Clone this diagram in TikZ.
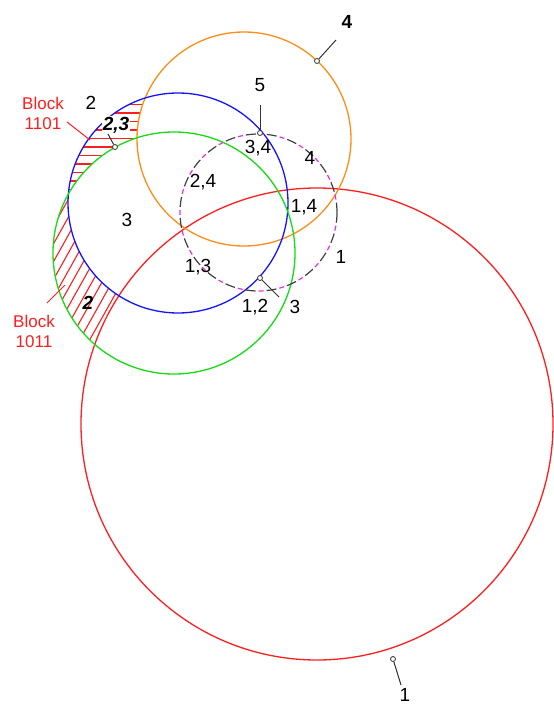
\documentclass[tikz,border=0pt]{standalone}
\usepackage{fontspec}
\setmainfont{Liberation Sans}
\definecolor{cred}{RGB}{255,30,30}
\definecolor{corange}{RGB}{255,140,20}
\definecolor{cblue}{RGB}{20,20,255}
\definecolor{cgreen}{RGB}{20,220,20}
\definecolor{cmag}{RGB}{240,40,240}
\begin{document}
\begin{tikzpicture}[x=1pt,y=-1pt,
  circ/.style={line width=1.3pt},
  hatch/.style={cred, line width=1.1pt},
  num/.style={font=\fontsize{19}{19}\selectfont, inner sep=1pt},
  bnum/.style={font=\fontsize{19}{19}\selectfont\bfseries, inner sep=1pt},
  binum/.style={font=\fontsize{19}{19}\selectfont\bfseries\itshape, inner sep=1pt},
  blk/.style={font=\fontsize{17}{20}\selectfont, text=cred, align=center, inner sep=0pt},
  pnt/.style={circle, draw=black!80, fill=white, line width=0.8pt, inner sep=0pt, minimum size=5pt},
  lead/.style={line width=1pt, black!80},
  rlead/.style={line width=1pt, cred}]
\useasboundingbox (0,0) rectangle (554,707);
% hatching block 1101
\begin{scope}
  \clip (178,203) circle[radius=110pt];
  \foreach \y in {104.5,113,...,190} \draw[hatch] (50,\y) -- (160,\y);
  \fill[white] (174,253) circle[radius=121pt];
  \fill[white] (244,139) circle[radius=107pt];
\end{scope}
% hatching block 1011
\begin{scope}
  \clip (174,253) circle[radius=121pt];
  \foreach \c in {170,180,...,330} \draw[hatch] ({\c-0.56*190},190) -- ({\c-0.56*380},380);
  \fill[white] (178,203) circle[radius=110pt];
  \fill[white] (317,424) circle[radius=236pt];
\end{scope}
% circles
\draw[circ, cred] (317,424) circle[radius=236pt];
\draw[circ, corange] (244,139) circle[radius=107pt];
\draw[circ, cblue] (178,203) circle[radius=110pt];
\draw[circ, cgreen] (174,253) circle[radius=121pt];
\draw[line width=1.2pt, black!75, dash pattern=on 10pt off 11pt] (258.5,212.5) circle[radius=78.5pt];
\draw[line width=1.2pt, cmag, dash pattern=on 5pt off 16pt, dash phase=8pt] (258.5,212.5) circle[radius=78.5pt];
% points
\node[pnt] (p4) at (317,61) {};
\node[pnt] (p5) at (260,133) {};
\node[pnt] (p23) at (115,147) {};
\node[pnt] (p3) at (260,278) {};
\node[pnt] (p1) at (393,659) {};
% labels
\node[bnum] (l4top) at (347,22) {4};
\node[num] (l5) at (260,85) {5};
\node[num] (l2a) at (91,103) {2};
\node[binum, fill=white] (l23) at (116,125) {2,3};
\node[num] (l34) at (258,148) {3,4};
\node[num] (l4b) at (310,158) {4};
\node[num] (l24) at (203,182) {2,4};
\node[num] (l3a) at (127,220) {3};
\node[num] (l14) at (304,207) {1,4};
\node[num] (l1a) at (341,257) {1};
\node[num] (l13) at (198,267) {1,3};
\node[num] (l12) at (255,307) {1,2};
\node[num] (l3b) at (295,307) {3};
\node[binum] (l2b) at (88,303) {2};
\node[num] (l1b) at (405,695) {1};
\node[blk] (b1101) at (43,113) {Block\\1101};
\node[blk] (b1011) at (34,331) {Block\\1011};
% leaders
\coordinate (c4) at (336,40);
\coordinate (c5) at (260,105);
\coordinate (c23) at (108,134);
\coordinate (c3) at (279,297);
\coordinate (c1) at (401,685);
\draw[lead] (c4) -- (p4);
\draw[lead] (c5) -- (p5);
\draw[lead] (c23) -- (p23);
\draw[lead] (p3) -- (c3);
\draw[lead] (p1) -- (c1);
\coordinate (r1a) at (67,122);
\coordinate (r1b) at (90,140);
\coordinate (r2a) at (47,303);
\coordinate (r2b) at (65,285);
\draw[rlead] (r1a) -- (r1b);
\draw[rlead] (r2a) -- (r2b);
\end{tikzpicture}
\end{document}
